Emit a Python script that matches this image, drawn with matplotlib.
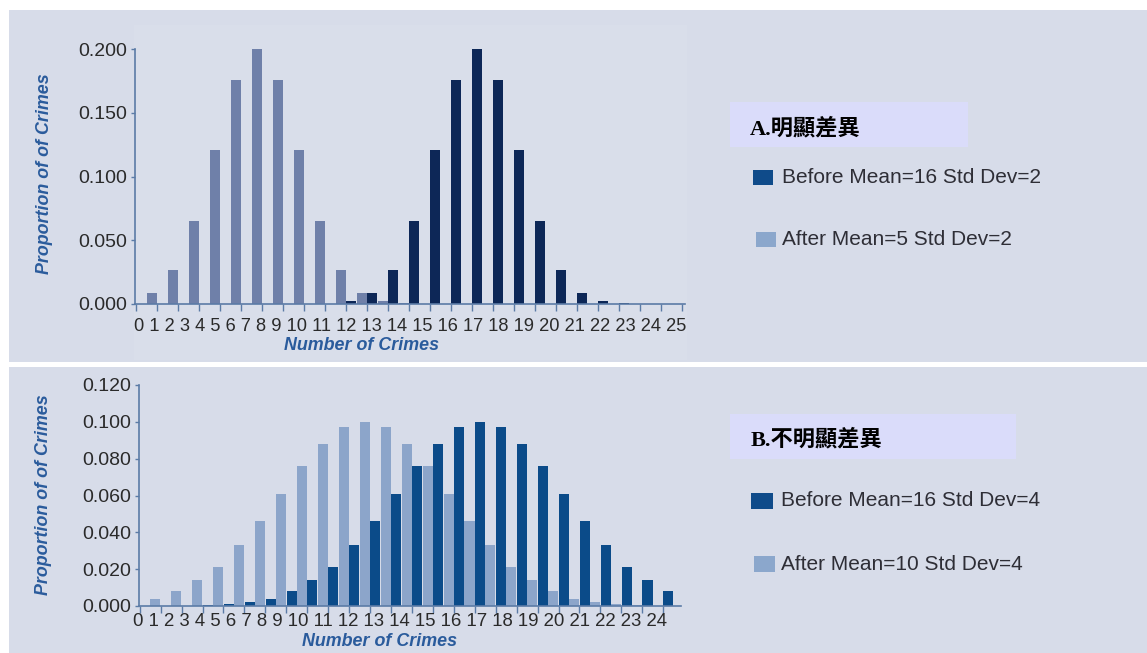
import matplotlib
matplotlib.use('Agg')
import numpy as np
import matplotlib.pyplot as plt
from matplotlib.patches import Rectangle
from matplotlib import font_manager

W, H = 1147, 653

# ---- panel A: clear difference ----
groups_a = list(range(26))
before_a = [0, 0, 0, 0, 0, 0, 0, 0, 0, 0,
            0.002, 0.009, 0.027, 0.065, 0.121, 0.176, 0.200, 0.176, 0.121, 0.065,
            0.027, 0.009, 0.002, 0.0004, 0, 0]
after_a = [0.009, 0.027, 0.065, 0.121, 0.176, 0.200, 0.176, 0.121, 0.065, 0.027,
           0.009, 0.002, 0.0004, 0, 0, 0, 0, 0, 0, 0,
           0, 0, 0, 0, 0, 0]
xlabels_a = [str(i) for i in range(26)]
yticks_a = [0.000, 0.050, 0.100, 0.150, 0.200]
title_a = 'A.明顯差異'
legend_a = ['Before Mean=16 Std Dev=2', 'After Mean=5 Std Dev=2']

# ---- panel B: unclear difference ----
groups_b = list(range(26))
before_b = [0, 0, 0.0002, 0.0005, 0.001, 0.002, 0.004, 0.008, 0.014, 0.021,
            0.033, 0.046, 0.061, 0.076, 0.088, 0.097, 0.100, 0.097, 0.088, 0.076,
            0.061, 0.046, 0.033, 0.021, 0.014, 0.008]
after_b = [0.004, 0.008, 0.014, 0.021, 0.033, 0.046, 0.061, 0.076, 0.088, 0.097,
           0.100, 0.097, 0.088, 0.076, 0.061, 0.046, 0.033, 0.021, 0.014, 0.008,
           0.004, 0.002, 0.001, 0.0005, 0.0002, 0]
xlabels_b = [str(i) for i in range(25)]
yticks_b = [0.000, 0.020, 0.040, 0.060, 0.080, 0.100, 0.120]
title_b = 'B.不明顯差異'
legend_b = ['Before Mean=16 Std Dev=4', 'After Mean=10 Std Dev=4']

PANEL = '#d7dce9'
INNER = '#d9deea'
AXIS = '#5b7ba6'
LABEL_BLUE = '#2a5b9c'
TEXT = '#2e2e36'
BOX = '#dadcfa'

names = {f.name for f in font_manager.fontManager.ttflist}
if 'Liberation Sans Narrow' in names:
    NARROW, leg_fs, lab_fs = 'Liberation Sans Narrow', 18.5, 15
else:
    NARROW, leg_fs, lab_fs = 'Liberation Sans', 15, 12.9


def fx(x):
    return x / W


def fy(y):
    return 1 - y / H


def rect(x0, y0, x1, y1, color):
    fig.add_artist(Rectangle((fx(x0), fy(y1)), fx(x1) - fx(x0), fy(y0) - fy(y1),
                             transform=fig.transFigure, facecolor=color,
                             edgecolor='none', zorder=0))


fig = plt.figure(figsize=(W / 100, H / 100), dpi=100, facecolor='white')

rect(9, 10, W, 362, PANEL)
rect(9, 367, W, H, PANEL)
rect(134, 25, 687, 360, INNER)


def panel(box, xmax, ymax, groups, before, after, c_before, c_after,
          yticks, xlabels, lab_x, lab_y, lab_fs_digits, ylab_xy, xlab_xy):
    x0, y0, x1, y1 = box
    ax = fig.add_axes([fx(x0), fy(y0), fx(x1) - fx(x0), fy(y1) - fy(y0)])
    ax.patch.set_alpha(0)
    ax.bar([g - 0.25 for g in groups], before, width=0.48, color=c_before,
           clip_on=False, zorder=3)
    ax.bar([g + 0.25 for g in groups], after, width=0.48, color=c_after,
           clip_on=False, zorder=3)
    ax.set_xlim(xmax[0], xmax[1])
    ax.set_ylim(0, ymax)
    for s in ['top', 'right']:
        ax.spines[s].set_visible(False)
    for s in ['left', 'bottom']:
        ax.spines[s].set_color(AXIS)
        ax.spines[s].set_linewidth(1.2)
        ax.spines[s].set_zorder(4)
    ax.set_xticks(np.arange(-0.5, xmax[1], 1))
    ax.set_xticklabels([])
    ax.tick_params(axis='x', length=5, width=1, color=AXIS)
    ax.set_yticks(yticks)
    ax.set_yticklabels(['%.3f' % v for v in yticks], fontfamily='Liberation Sans',
                       fontsize=14, color='#2a2a2a')
    ax.tick_params(axis='y', length=3, width=1, color=AXIS, pad=3)
    # number labels are set as one spaced line, as in the original
    fig.text(fx(lab_x), fy(lab_y), ' '.join(xlabels), ha='left', va='center',
             fontfamily='Liberation Sans', fontsize=lab_fs_digits, color='#2a2a2a')
    fig.text(fx(ylab_xy[0]), fy(ylab_xy[1]), 'Proportion of of Crimes', rotation=90,
             ha='center', va='center', fontfamily=NARROW, fontsize=lab_fs,
             fontweight='bold', style='italic', color=LABEL_BLUE)
    fig.text(fx(xlab_xy[0]), fy(xlab_xy[1]), 'Number of Crimes', ha='center',
             va='center', fontfamily=NARROW, fontsize=lab_fs,
             fontweight='bold', style='italic', color=LABEL_BLUE)
    return ax


def legend(box, title, title_xy, items, colors, squares, text_x):
    rect(*box, BOX)
    fig.text(fx(title_xy[0]), fy(title_xy[1]), title, ha='left', va='center',
             fontfamily=['Liberation Serif', 'Noto Sans CJK TC'], fontweight='bold',
             fontsize=16, color='black')
    for label, c, sq in zip(items, colors, squares):
        rect(sq[0], sq[1], sq[2], sq[3], c)
        fig.text(fx(text_x), fy((sq[1] + sq[3]) / 2), label, ha='left', va='center',
                 fontfamily=NARROW, fontsize=leg_fs, color=TEXT)


panel((135.3, 304, 685, 49), (-0.53, 25.64), 0.2, groups_a, before_a, after_a,
      '#0d2757', '#6f80a9', yticks_a, xlabels_a, 133.6, 326, 13.15,
      (45, 174), (362, 346))
panel((139.3, 606, 680.8, 385), (-0.52, 25.34), 0.12, groups_b, before_b, after_b,
      '#0b4b89', '#8ca5ca', yticks_b, xlabels_b, 133.1, 621.5, 13.4,
      (44, 495), (380, 642))

legend((730, 102, 968, 147), title_a, (750, 129), legend_a,
       ['#0f4b8a', '#8ba7cc'], [(753, 170, 773, 185), (756, 232, 776, 247)], 782)
legend((730, 414, 1016, 459), title_b, (751, 440), legend_b,
       ['#0f4b8a', '#8ba7cc'], [(751, 493, 773, 509), (754, 556, 775, 572)], 781)

fig.savefig('out.png', dpi=100, facecolor='white')
